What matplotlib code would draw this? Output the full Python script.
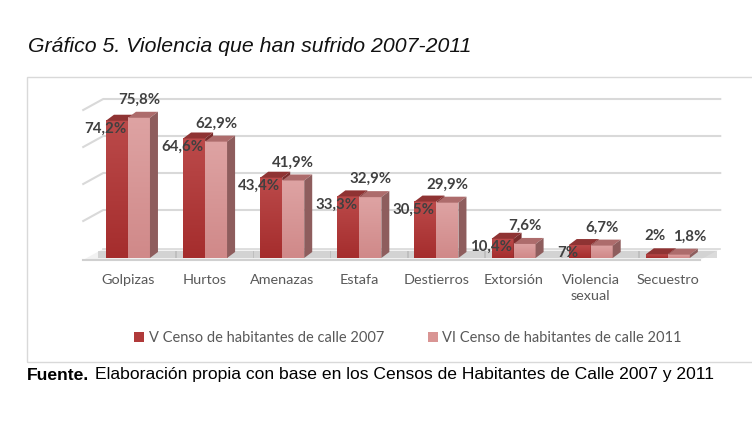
import matplotlib
matplotlib.use("Agg")
import numpy as np
import matplotlib.pyplot as plt
from matplotlib.patches import Polygon, Rectangle, Patch
from matplotlib.colors import LinearSegmentedColormap

categories = ["Golpizas", "Hurtos", "Amenazas", "Estafa", "Destierros",
              "Extorsión", "Violencia\nsexual", "Secuestro"]
censo_2007 = [74.2, 64.6, 43.4, 33.3, 30.5, 10.4, 7.0, 2.0]
censo_2011 = [75.8, 62.9, 41.9, 32.9, 29.9, 7.6, 6.7, 1.8]
labels_2007 = ["74,2%", "64,6%", "43,4%", "33,3%", "30,5%", "10,4%", "7%", "2%"]
labels_2011 = ["75,8%", "62,9%", "41,9%", "32,9%", "29,9%", "7,6%", "6,7%", "1,8%"]
series_names = ["V Censo de habitantes de calle 2007", "VI Censo de habitantes de calle 2011"]
grid_values = [0, 20, 40, 60, 80]

W, H = 752, 423
fig = plt.figure(figsize=(W / 100, H / 100), dpi=100)

# axes placed so the front floor sits at y=258px
ax = fig.add_axes([89.4 / W, (H - 258) / H, 617 / W, 166.5 / H])
ax.set_xlim(-0.5, 7.5)
ax.set_ylim(0, 90)
ax.axis("off")

ppu_x = 617 / 8.0
ppu_y = 166.5 / 90.0

# depth offsets (pixels -> data units)
wall_dx, wall_dy = 20 / ppu_x, 11 / ppu_y
bar_dx, bar_dy = 8 / ppu_x, 6 / ppu_y
bar_w = 22 / ppu_x

grid_col = "#d9d9d9"
left_x = -0.58
right_x = 7.42

# floor
floor = Polygon([(left_x, -1), (right_x, -1), (right_x + wall_dx, wall_dy - 1),
                 (left_x + wall_dx, wall_dy - 1)], closed=True,
                facecolor="#f2f2f2", edgecolor="none", clip_on=False, zorder=1)
ax.add_patch(floor)
ax.plot([left_x, right_x], [-1, -1], color="#d0d0d0", lw=1.5, clip_on=False, zorder=1)

# back gridlines + side wall slant
for g in grid_values[1:]:
    ax.plot([left_x, left_x + wall_dx, right_x + wall_dx], [g, g + wall_dy, g + wall_dy],
            color=grid_col, lw=1.5, clip_on=False, zorder=1)
ax.plot([left_x + wall_dx, right_x + wall_dx], [wall_dy - 1, wall_dy - 1],
        color=grid_col, lw=1.2, clip_on=False, zorder=1)

grad = np.linspace(1, 0, 64).reshape(-1, 1)


def draw_bar(x0, v, front, top, side, z):
    x1 = x0 + bar_w
    cmap = LinearSegmentedColormap.from_list("g", [front[1], front[0]])
    face = Polygon([(x0, 0), (x1, 0), (x1, v), (x0, v)], closed=True,
                   facecolor="none", edgecolor="none", clip_on=False, zorder=z)
    ax.add_patch(face)
    im = ax.imshow(grad, cmap=cmap, extent=(x0, x1, 0, v), aspect="auto",
                   zorder=z, clip_on=False, interpolation="bilinear")
    im.set_clip_path(face)
    ax.add_patch(Polygon([(x0, v), (x1, v), (x1 + bar_dx, v + bar_dy), (x0 + bar_dx, v + bar_dy)],
                         closed=True, facecolor=top, edgecolor="none", clip_on=False, zorder=z))
    ax.add_patch(Polygon([(x1, 0), (x1 + bar_dx, bar_dy), (x1 + bar_dx, v + bar_dy), (x1, v)],
                         closed=True, facecolor=side, edgecolor="none", clip_on=False, zorder=z))


red = (("#bb4a4a", "#a52d2d"), "#8f3333", "#7a2c2c")
pink = (("#dea3a3", "#d08989"), "#ad6c6c", "#8e5d5d")
lab_col = "#404040"
lab_font = dict(family="Lato", fontsize=10.8, fontweight="bold", color=lab_col)

for i, (a, b) in enumerate(zip(censo_2007, censo_2011)):
    # soft shadow on floor
    sx = i + bar_w + bar_dx
    ax.add_patch(Polygon([(i - bar_w - 0.1, 0.2), (sx + 0.25, 0.2), (sx + 0.25, bar_dy + 0.6),
                          (i - bar_w - 0.1, bar_dy + 0.6)], closed=True,
                         facecolor="#9a9a9a", alpha=0.35, edgecolor="none", clip_on=False, zorder=2))
    draw_bar(i - bar_w, a, *red, z=3 + i * 2)
    draw_bar(i, b, *pink, z=4 + i * 2)
    if a < 5:
        ax.annotate(labels_2007[i], (i - bar_w / 2, a), xytext=(-2, 18), textcoords="offset pixels",
                    ha="center", va="center", zorder=30, **lab_font)
        off11 = 11
    else:
        ax.annotate(labels_2007[i], (i - bar_w, a), xytext=(-1, -8), textcoords="offset pixels",
                    ha="center", va="center", zorder=30, **lab_font)
        off11 = 0
    ax.annotate(labels_2011[i], (i + bar_w / 2, b), xytext=(off11, 18), textcoords="offset pixels",
                ha="center", va="center", zorder=30, **lab_font)
    ax.annotate(categories[i], (i, 0), xytext=(0, -16), textcoords="offset pixels",
                ha="center", va="top", family="Lato", fontsize=10.4, color="#595959",
                linespacing=1.4)

# outer chart border
fig.patches.append(Rectangle((27 / W, (H - 362) / H), (W + 5 - 27) / W, (362 - 77) / H,
                             transform=fig.transFigure, fill=False, edgecolor="#d9d9d9",
                             lw=1.0, zorder=0))

handles = [Patch(facecolor="#b03a3a", edgecolor="none"), Patch(facecolor="#d99594", edgecolor="none")]
fig.legend(handles, series_names, loc="center", bbox_to_anchor=(408 / W, 1 - 338 / H),
           ncol=2, frameon=False, handlelength=0.7, handleheight=0.7, handletextpad=0.3,
           columnspacing=3.0, prop={"family": "Lato", "size": 10.5}, labelcolor="#595959")

fig.text(28 / W, 1 - 46 / H, "Gráfico 5. Violencia que han sufrido 2007-2011",
         family="Liberation Sans", style="italic", fontsize=15.3, color="#111111",
         ha="left", va="center")
fig.text(27 / W, 1 - 375 / H, "Fuente.", family="Liberation Sans", fontweight="bold",
         fontsize=12.6, color="black", ha="left", va="center")
fig.text(95 / W, 1 - 375 / H, "Elaboración propia con base en los Censos de Habitantes de Calle 2007 y 2011",
         family="Liberation Sans", fontsize=12.6, color="black", ha="left", va="center")

fig.savefig("out.png", dpi=100)
